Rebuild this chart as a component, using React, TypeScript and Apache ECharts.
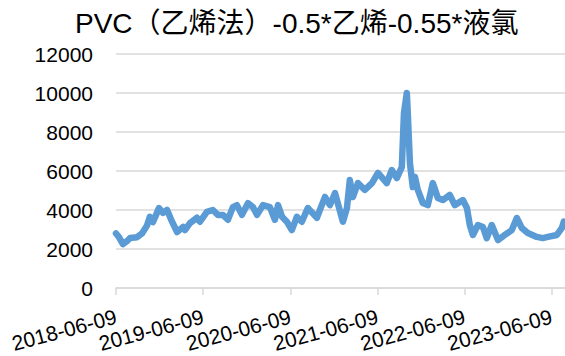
import React, { useEffect, useRef } from "react";
import * as echarts from "echarts";

const titleText = "PVC（乙烯法）-0.5*乙烯-0.55*液氯";

const dates: string[] = [
  "2018-06-09", "2018-06-22", "2018-07-08", "2018-07-25", "2018-08-07", "2018-09-05",
  "2018-09-26", "2018-10-17", "2018-10-29", "2018-11-11", "2018-11-24", "2018-12-06",
  "2018-12-23", "2019-01-09", "2019-01-30", "2019-02-20", "2019-03-17", "2019-03-25",
  "2019-04-15", "2019-05-14", "2019-05-27", "2019-06-25", "2019-07-20", "2019-08-10",
  "2019-08-31", "2019-09-21", "2019-10-12", "2019-10-29", "2019-11-19", "2019-12-14",
  "2020-01-04", "2020-01-21", "2020-02-15", "2020-03-15", "2020-04-05", "2020-04-18",
  "2020-05-05", "2020-05-25", "2020-06-15", "2020-07-06", "2020-07-27", "2020-08-21",
  "2020-09-28", "2020-11-01", "2020-11-22", "2020-12-13", "2021-01-15", "2021-02-01",
  "2021-02-13", "2021-02-26", "2021-03-19", "2021-04-17", "2021-05-17", "2021-06-11",
  "2021-07-18", "2021-08-08", "2021-08-29", "2021-09-19", "2021-09-28", "2021-10-10",
  "2021-10-14", "2021-10-23", "2021-11-04", "2021-11-13", "2021-11-25", "2021-12-16",
  "2022-01-06", "2022-01-27", "2022-02-17", "2022-03-10", "2022-04-08", "2022-04-29",
  "2022-06-02", "2022-06-19", "2022-07-01", "2022-07-14", "2022-08-04", "2022-08-25",
  "2022-09-10", "2022-10-01", "2022-10-27", "2022-11-25", "2022-12-24", "2023-01-14",
  "2023-02-04", "2023-03-01", "2023-04-08", "2023-05-03", "2023-05-24", "2023-07-01",
  "2023-07-22", "2023-07-30",
];

const values: number[] = [
  2800, 2600, 2250, 2400, 2560, 2600,
  2800, 3200, 3650, 3380, 3750, 4100,
  3850, 4000, 3400, 2870, 3130, 2970,
  3330, 3600, 3400, 3900, 4000, 3750,
  3750, 3500, 4150, 4250, 3750, 4350,
  4150, 3750, 4250, 4150, 3500, 4250,
  3650, 3400, 2970, 3650, 3400, 4100,
  3600, 4670, 4250, 4870, 3400, 4100,
  5540, 4670, 5380, 5030, 5380, 5900,
  5380, 6050, 5640, 6200, 8970, 10000,
  8970, 6400, 5180, 5690, 5030, 4360,
  4250, 5380, 4620, 4510, 4770, 4250,
  4510, 4100, 3230, 2720, 3230, 3130,
  2560, 3230, 2460, 2720, 2970, 3590,
  3080, 2820, 2620, 2560, 2620, 2720,
  3080, 3400,
];

const xTickLabels: string[] = [
  "2018-06-09", "2019-06-09", "2020-06-09", "2021-06-09", "2022-06-09", "2023-06-09",
];
const xMin = "2018-06-09";
const xMax = "2023-08-04";

const yMin = 0;
const yMax = 12000;
const yInterval = 2000;

const ts = (s: string) => echarts.number.parseDate(s).getTime();
const pad = (n: number) => (n < 10 ? "0" + n : "" + n);

export default function App() {
  const ref = useRef<HTMLDivElement>(null);
  useEffect(() => {
    document.body.style.margin = "0";
    const chart = echarts.init(ref.current!, null, { renderer: "svg" });
    const tickVals = xTickLabels.map(ts);
    chart.setOption({
      animation: false,
      title: {
        text: titleText,
        left: 70,
        top: 4,
        textStyle: {
          fontSize: 28,
          fontWeight: "normal",
          color: "#000",
          fontFamily: "'Liberation Sans', 'Noto Sans CJK SC', sans-serif",
        },
      },
      grid: { left: 116, right: 0, top: 54, bottom: 68, containLabel: false },
      xAxis: {
        type: "value",
        min: ts(xMin),
        max: ts(xMax),
        scale: true,
        axisLine: { show: true, onZero: false, lineStyle: { color: "#D9D9D9", width: 1.5 } },
        axisTick: {
          show: true,
          customValues: tickVals,
          length: 7,
          lineStyle: { color: "#D9D9D9", width: 1.5 },
        },
        axisLabel: {
          customValues: tickVals,
          rotate: 15,
          margin: 28,
          fontSize: 21,
          color: "#000",
          fontFamily: "'Liberation Sans', sans-serif",
          formatter: (v: number) => {
            const d = new Date(v);
            return `${d.getFullYear()}-${pad(d.getMonth() + 1)}-${pad(d.getDate())}`;
          },
        },
        splitLine: { show: false },
      },
      yAxis: {
        type: "value",
        min: yMin,
        max: yMax,
        interval: yInterval,
        axisLine: { show: false },
        axisTick: { show: false },
        axisLabel: {
          margin: 23,
          fontSize: 21,
          color: "#000",
          fontFamily: "'Liberation Sans', sans-serif",
          formatter: (v: number) => String(v),
        },
        splitLine: { lineStyle: { color: "#D9D9D9", width: 1.5 } },
      },
      series: [
        {
          type: "line",
          data: dates.map((d, i) => [ts(d), values[i]]),
          showSymbol: false,
          symbol: "none",
          lineStyle: { color: "#5B9BD5", width: 6.5, join: "round", cap: "round" },
          itemStyle: { color: "#5B9BD5" },
        },
      ],
    });
    return () => chart.dispose();
  }, []);
  return <div ref={ref} style={{ width: 565, height: 356 }} />;
}
